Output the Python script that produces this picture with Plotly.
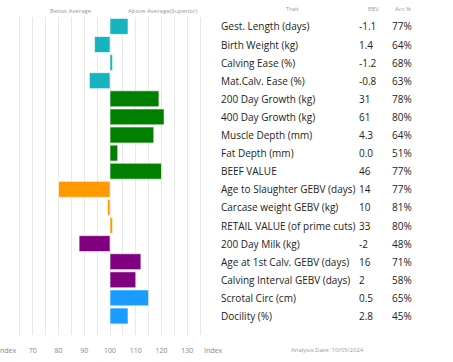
import plotly.graph_objects as go

traits = ["Gest. Length (days)", "Birth Weight (kg)", "Calving Ease (%)", "Mat.Calv. Ease (%)",
          "200 Day Growth (kg)", "400 Day Growth (kg)", "Muscle Depth (mm)", "Fat Depth (mm)",
          "BEEF VALUE", "Age to Slaughter GEBV (days)", "Carcase weight GEBV (kg)",
          "RETAIL VALUE (of prime cuts)", "200 Day Milk (kg)", "Age at 1st Calv. GEBV (days)",
          "Calving Interval GEBV (days)", "Scrotal Circ (cm)", "Docility (%)"]
ebv = ["-1.1", "1.4", "-1.2", "-0.8", "31", "61", "4.3", "0.0", "46", "14", "10", "33",
       "-2", "16", "2", "0.5", "2.8"]
acc = ["77%", "64%", "68%", "63%", "78%", "80%", "64%", "51%", "77%", "77%", "81%", "80%",
       "48%", "71%", "58%", "65%", "45%"]
index_vals = [107, 94, 101, 92, 119, 121, 117, 103, 120, 80, 99, 101, 88, 112, 110, 115, 107]
colors = ["#17b3bf"] * 4 + ["#007f00"] * 5 + ["#ff9900"] * 3 + ["#800080"] * 3 + ["#1a9cff"] * 2

tick_vals = [60, 65, 70, 75, 80, 85, 90, 95, 100, 105, 110, 115, 120, 125, 130, 135, 140]
tick_text = ["Index", "", "70", "", "80", "", "90", "", "100", "", "110", "", "120", "", "130", "", "Index"]

W, H = 453, 362
rows = list(range(len(traits)))

fig = go.Figure(go.Bar(
    y=rows, x=[v - 100 for v in index_vals], base=100, orientation="h",
    marker=dict(color=colors, line=dict(color="white", width=0.6)),
    width=0.88, hoverinfo="skip"))

fig.update_layout(
    width=W, height=H, margin=dict(l=0, r=0, t=0, b=0, autoexpand=False),
    paper_bgcolor="white", plot_bgcolor="white", showlegend=False,
    xaxis=dict(domain=[7 / W, 213 / W], range=[60, 140], tickvals=tick_vals, ticktext=tick_text,
               showgrid=True, gridcolor="#e8e8e8", gridwidth=1, zeroline=False, automargin=False,
               ticks="outside", ticklen=9, tickcolor="rgba(0,0,0,0)", ticklabeloverflow="allow",
               tickfont=dict(family="Open Sans", size=7, color="#888")),
    yaxis=dict(domain=[1 - 335 / H, 1 - 17 / H], range=[17.05, -0.52], showgrid=False,
               zeroline=False, showticklabels=False, automargin=False),
    font=dict(family="Open Sans"),
)

ann = []
fs = 10
for i in rows:
    ann.append(dict(x=219 / W, y=i, xref="paper", yref="y", text=traits[i], showarrow=False,
                    xanchor="left", yanchor="middle", font=dict(size=fs, color="#222")))
    ann.append(dict(x=357 / W, y=i, xref="paper", yref="y", text=ebv[i], showarrow=False,
                    xanchor="left", yanchor="middle", font=dict(size=fs, color="#222")))
    ann.append(dict(x=390 / W, y=i, xref="paper", yref="y", text=acc[i], showarrow=False,
                    xanchor="left", yanchor="middle", font=dict(size=fs, color="#222")))

small = dict(size=6, color="#999")
for txt, xp, yp in [("Trait", 292, 9), ("EBV", 373, 9), ("Acc %", 403, 9),
                    ("Below Average", 71, 11), ("Above Average(Superior)", 162, 11),
                    ("Analysis Date: 10/05/2024", 327, 350)]:
    ann.append(dict(x=xp / W, y=1 - yp / H, xref="paper", yref="paper", text=txt,
                    showarrow=False, xanchor="center", yanchor="middle", font=small))

fig.update_layout(annotations=ann)
fig.write_html("out.html", config={"displayModeBar": False},
               post_script="document.body.style.margin='0';document.body.style.padding='0';")
